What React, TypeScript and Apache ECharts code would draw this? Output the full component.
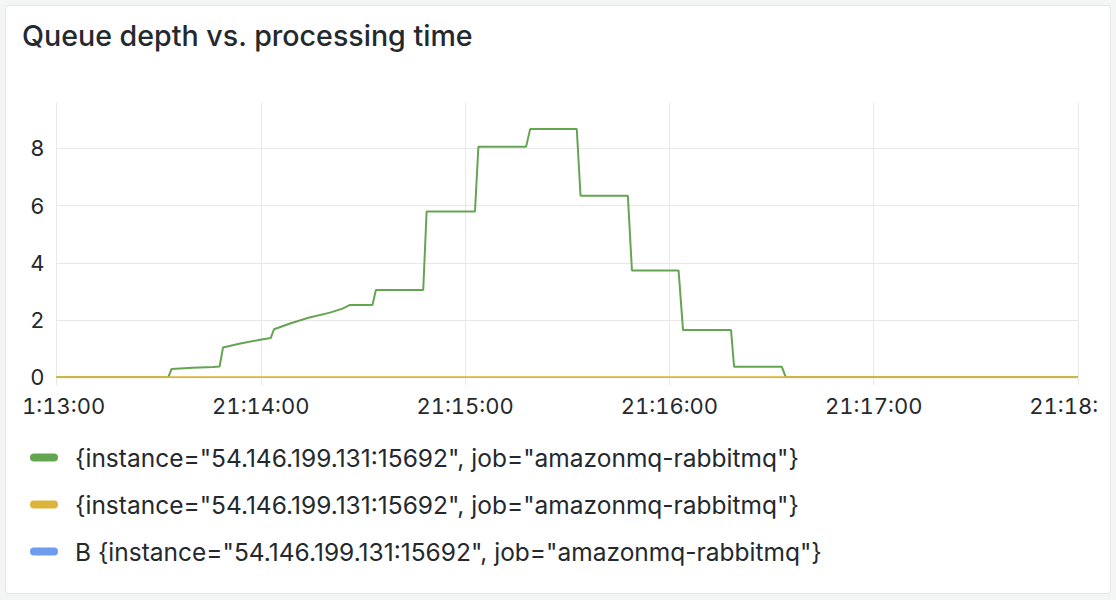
import React, { useEffect, useRef } from "react";
import * as echarts from "echarts";

const TITLE = "Queue depth vs. processing time";
const timeLabels = ["21:13:00", "21:14:00", "21:15:00", "21:16:00", "21:17:00", "21:18:00"];
const seriesNames = [
  '{instance="54.146.199.131:15692", job="amazonmq-rabbitmq"}',
  '{instance="54.146.199.131:15692", job="amazonmq-rabbitmq"}',
  'B {instance="54.146.199.131:15692", job="amazonmq-rabbitmq"}',
];
const seriesIds = ["A1", "A2", "B"];
const seriesColors = ["#64a552", "#dcb43a", "#6e9cee"];

// seconds after 21:13:00
const greenTimes = [0, 32.8, 33.8, 40, 46, 47.9, 48.9, 54, 59.8, 62.9, 63.9, 68.6, 74, 80.3, 84, 86.2, 92.8, 93.8, 107.7, 108.7, 122.9, 123.9, 137.9, 139.1, 152.8, 153.9, 167.8, 169.0, 182.7, 184.0, 198.1, 199.0, 213.0, 214.2, 300];
const greenValues = [0, 0, 0.29, 0.33, 0.36, 0.38, 1.04, 1.18, 1.31, 1.37, 1.68, 1.88, 2.08, 2.26, 2.4, 2.53, 2.53, 3.05, 3.05, 5.79, 5.79, 8.05, 8.05, 8.67, 8.67, 6.34, 6.34, 3.73, 3.73, 1.65, 1.65, 0.37, 0.37, 0, 0];
const yellowTimes = [0, 300];
const yellowValues = [0, 0];
const blueTimes: number[] = [];
const blueValues: number[] = [];

const FONT = "Inter, 'Noto Sans', sans-serif";
const TEXT = "#24292e";
const GRID = "#e8e8e8";

export default function App() {
  const ref = useRef<HTMLDivElement>(null);
  useEffect(() => {
    if (!ref.current) return;
    const chart = echarts.init(ref.current, undefined, { renderer: "svg" });
    const zip = (t: number[], v: number[]) => t.map((x, i) => [x, v[i]]);
    const data = [zip(greenTimes, greenValues), zip(yellowTimes, yellowValues), zip(blueTimes, blueValues)];
    const nameMap: Record<string, string> = {};
    seriesIds.forEach((id, i) => (nameMap[id] = seriesNames[i]));
    chart.setOption({
      animation: false,
      title: {
        text: TITLE,
        left: 1,
        top: 21,
        padding: 0,
        textStyle: { fontFamily: FONT, fontSize: 28.6, fontWeight: 500, color: TEXT },
      },
      legend: {
        orient: "vertical",
        left: 9,
        top: 445,
        padding: 0,
        itemGap: 22,
        itemWidth: 28,
        itemHeight: 8,
        icon: "path://M4,0 L24,0 A4,4 0 0 1 24,8 L4,8 A4,4 0 0 1 4,0 Z",
        data: seriesIds,
        formatter: (n: string) => nameMap[n],
        textStyle: { fontFamily: FONT, fontSize: 24.5, color: TEXT, lineHeight: 23, padding: [0, 0, 0, 12] },
      },
      grid: { left: 35.5, right: 19, top: 102.5, bottom: 222.7, outerBoundsMode: "none", containLabel: false },
      xAxis: {
        type: "value",
        min: 0,
        max: 300,
        interval: 60,
        axisLine: { show: false },
        axisTick: { show: true, length: 8, lineStyle: { color: GRID } },
        splitLine: { show: true, lineStyle: { color: GRID, width: 1 } },
        axisLabel: {
          fontFamily: FONT,
          fontSize: 22,
          color: TEXT,
          margin: 18,
          hideOverlap: false,
          formatter: (v: number) => timeLabels[Math.round(v / 60)],
        },
      },
      yAxis: {
        type: "value",
        min: 0,
        max: 9.6,
        interval: 2,
        axisLine: { show: false },
        axisTick: { show: false },
        splitLine: { show: true, lineStyle: { color: [GRID, GRID, GRID, GRID, GRID, "transparent"], width: 1 } },
        axisLabel: {
          fontFamily: FONT,
          fontSize: 22,
          color: TEXT,
          margin: 12,
          formatter: (v: number) => (Math.abs(v % 2) < 1e-9 ? String(v) : ""),
        },
      },
      series: seriesIds.map((id, i) => ({
        name: id,
        type: "line",
        data: data[i],
        showSymbol: false,
        symbol: "none",
        color: seriesColors[i],
        lineStyle: { width: 2, color: seriesColors[i] },
        z: i === 2 ? 1 : 2 + i,
      })),
    });
    return () => chart.dispose();
  }, []);

  return (
    <div style={{ position: "fixed", left: 0, top: 0, width: 1116, height: 600, background: "#f4f5f5", overflow: "hidden" }}>
      <style>{`.qd-chart text[style*="22px"] { font-variant-numeric: tabular-nums; }`}</style>
      <div
        style={{
          position: "absolute",
          left: 5,
          top: 5,
          width: 1104,
          height: 587,
          background: "#ffffff",
          border: "1px solid #e4e6e8",
          borderRadius: 3,
        }}
      />
      <div
        ref={ref}
        className="qd-chart"
        style={{
          position: "absolute",
          left: 21,
          top: 0,
          width: 1076,
          height: 600,
          overflow: "hidden",
        }}
      />
    </div>
  );
}
